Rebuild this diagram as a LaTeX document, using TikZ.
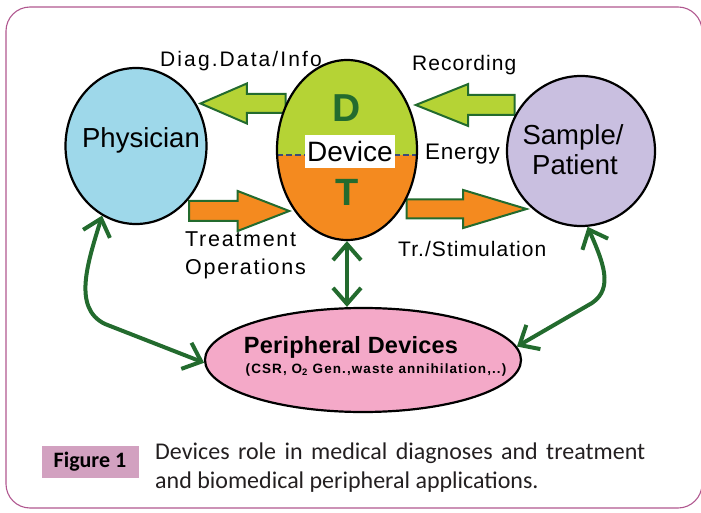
\documentclass[tikz,border=0pt]{standalone}
\usepackage{fontspec}
\setmainfont{Liberation Sans}
\newfontfamily\capfont{Carlito}
\usetikzlibrary{shapes.geometric,shapes.arrows,arrows.meta,calc}
\definecolor{physblue}{HTML}{9ED8EA}
\definecolor{devgreen}{HTML}{B5D335}
\definecolor{devorange}{HTML}{F48A1F}
\definecolor{samplil}{HTML}{C9BFE0}
\definecolor{perpink}{HTML}{F4A9C8}
\definecolor{dkgreen}{HTML}{236B2E}
\definecolor{framec}{HTML}{B0578F}
\definecolor{figbox}{HTML}{D2A1C0}
\definecolor{dashcol}{HTML}{3B4A78}
\definecolor{captxt}{HTML}{231F20}
\begin{document}
\begin{tikzpicture}[x=1bp,y=-1bp,
  ellnode/.style={ellipse, draw=black, line width=2.2bp, inner sep=0pt},
  blockarrow/.style={single arrow, draw=dkgreen, line width=2bp, inner xsep=0pt, minimum width=0pt, single arrow head indent=0pt},
  lbl/.style={inner sep=0pt, anchor=base west},
  clbl/.style={inner sep=0pt, anchor=base},
  dbl/.style={draw=dkgreen, line width=4bp, line cap=round, line join=round,
    {Straight Barb[length=16bp,width=28bp]}-{Straight Barb[length=16bp,width=28bp]}}
]
\useasboundingbox (0,0) rectangle (701,513);
\draw[framec, line width=1.1bp, rounded corners=24bp] (6,7) rectangle (702,508);

% block arrows
\node[blockarrow, fill=devgreen, minimum height=85bp, inner ysep=8.5bp,
  single arrow head extend=10.5bp, single arrow tip angle=46.7,
  shape border rotate=180, anchor=tip] (a1) at (198,103.5) {};
\node[blockarrow, fill=devgreen, minimum height=99bp, inner ysep=9bp,
  single arrow head extend=11bp, single arrow tip angle=43.6,
  shape border rotate=180, anchor=tip] (a2) at (413,105) {};
\node[blockarrow, fill=devorange, minimum height=100bp, inner ysep=9bp,
  single arrow head extend=10bp, single arrow tip angle=42.4,
  anchor=tip] (a3) at (292,211) {};
\node[blockarrow, fill=devorange, minimum height=120bp, inner ysep=8.5bp,
  single arrow head extend=9.5bp, single arrow tip angle=33.4,
  anchor=tip] (a4) at (530,209) {};

% ellipses
\node[ellnode, fill=physblue, minimum width=141bp, minimum height=156bp] (phys) at (136,146) {};
\node[ellnode, fill=samplil, minimum width=148bp, minimum height=150bp] (samp) at (581,151) {};
\node[ellnode, fill=perpink, minimum width=316bp, minimum height=104bp] (per) at (363,360) {};
\begin{scope}
  \clip (347,150) ellipse [x radius=70, y radius=90];
  \fill[devgreen] (270,55) rectangle (425,155);
  \fill[devorange] (270,155) rectangle (425,245);
\end{scope}
\draw[dashcol, line width=1.6bp, dash pattern=on 6bp off 3bp] (277,155) -- (418,155);
\node[ellnode, minimum width=140bp, minimum height=180bp] (dev) at (347,150) {};

% texts
\node[clbl] (tphys) at (141,148) {\fontsize{27.5bp}{30bp}\selectfont Physician};
\node[clbl] (tsamp1) at (573,145) {\fontsize{27.5bp}{30bp}\selectfont Sample/};
\node[clbl] (tsamp2) at (575,175) {\fontsize{27.5bp}{30bp}\selectfont Patient};
\node[clbl, text=dkgreen] (tD) at (347,122) {\bfseries\fontsize{39bp}{40bp}\selectfont D};
\node[clbl, text=dkgreen] (tT) at (347,206) {\bfseries\fontsize{38bp}{40bp}\selectfont T};
\node[fill=white, inner sep=0pt, minimum width=90bp, minimum height=33bp] (tdev) at (350,151.5) {\fontsize{28bp}{30bp}\selectfont Device};
\node[lbl] (tdiag) at (160,67) {\addfontfeature{LetterSpace=10}\fontsize{21bp}{23bp}\selectfont Diag.Data/Info};
\node[lbl] (trec) at (412,71) {\addfontfeature{LetterSpace=5}\fontsize{21bp}{23bp}\selectfont Recording};
\node[lbl] (tene) at (425,160) {\addfontfeature{LetterSpace=3}\fontsize{22.5bp}{24bp}\selectfont Energy};
\node[lbl] (ttr1) at (185,247) {\addfontfeature{LetterSpace=8}\fontsize{21.5bp}{23bp}\selectfont Treatment};
\node[lbl] (ttr2) at (185,275) {\addfontfeature{LetterSpace=8}\fontsize{21.5bp}{23bp}\selectfont Operations};
\node[lbl] (tstim) at (398,257) {\addfontfeature{LetterSpace=5}\fontsize{21bp}{23bp}\selectfont Tr./Stimulation};
\node[clbl] (tper) at (351,353) {\bfseries\addfontfeature{LetterSpace=1}\fontsize{23.5bp}{25bp}\selectfont Peripheral Devices};
\node[clbl] (tcsr) at (376,373) {\bfseries\addfontfeature{LetterSpace=8}\fontsize{13.5bp}{15bp}\selectfont (CSR, O\textsubscript{2} Gen.,waste annihilation,..)};

% double arrows
\draw[dbl] (phys.-116) .. controls (88,262) and (72,308) .. (105,324) -- (per.181);
\draw[dbl] (samp.-85) .. controls (603,262) and (614,288) .. (592,303) -- (per.5);
\draw[dbl] (dev.south) -- (dev.south |- per.north);

% caption
\node[fill=figbox, minimum width=97bp, minimum height=32bp, inner sep=0pt] (fig) at (90,462) {\capfont\bfseries\fontsize{22bp}{24bp}\selectfont Figure 1};
\node[anchor=base west, inner sep=0pt, text=captxt] (cap) at (155,459) {\parbox[t]{490bp}{\capfont\fontsize{24bp}{29bp}\selectfont Devices role in medical diagnoses and treatment and biomedical peripheral applications.}};
\end{tikzpicture}
\end{document}
